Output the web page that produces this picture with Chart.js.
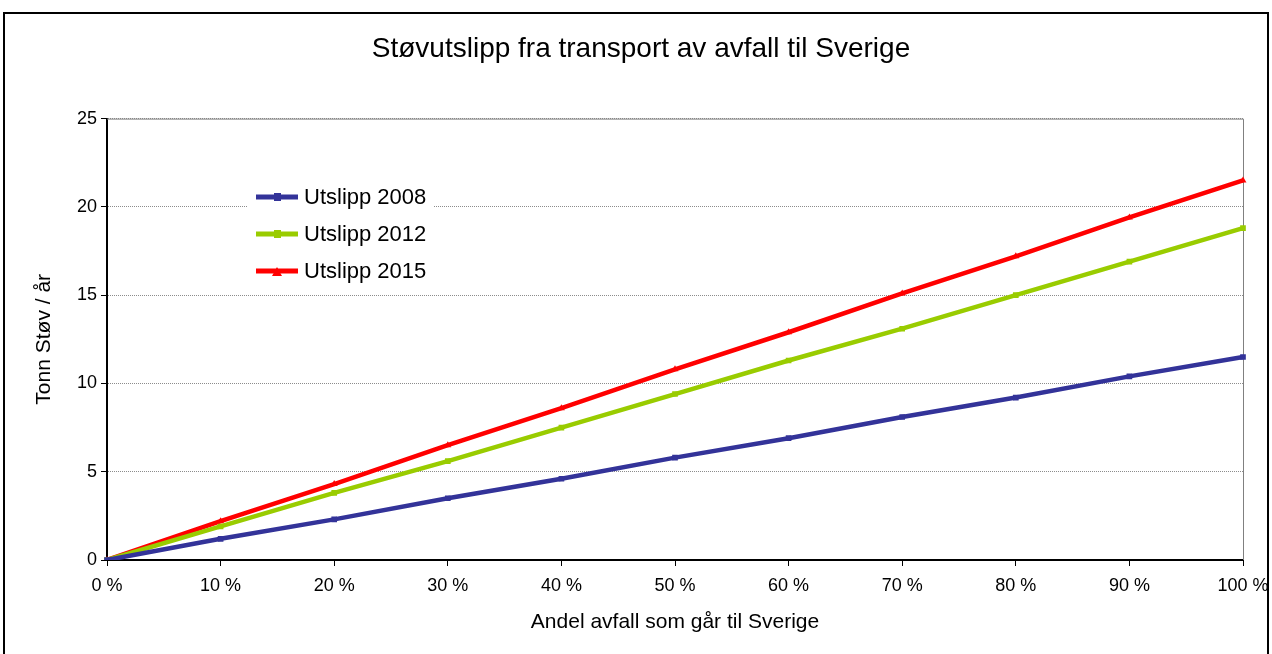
<!DOCTYPE html>
<html>
<head>
<meta charset="utf-8">
<script src="https://cdn.jsdelivr.net/npm/chart.js@4"></script>
<style>
  html, body { margin: 0; padding: 0; background: #fff; }
  #wrap { width: 1272px; height: 654px; }
</style>
</head>
<body>
<div id="wrap"><canvas id="dustChart" width="1272" height="654"></canvas></div>
<script>
const shares = ["0 %", "10 %", "20 %", "30 %", "40 %", "50 %", "60 %", "70 %", "80 %", "90 %", "100 %"];
const utslipp2008 = [0, 1.2, 2.3, 3.5, 4.6, 5.8, 6.9, 8.1, 9.2, 10.4, 11.5];
const utslipp2012 = [0, 1.9, 3.8, 5.6, 7.5, 9.4, 11.3, 13.1, 15.0, 16.9, 18.8];
const utslipp2015 = [0, 2.2, 4.3, 6.5, 8.6, 10.8, 12.9, 15.1, 17.2, 19.4, 21.5];

const FONT = "'Liberation Sans', Arial, sans-serif";

// white page + outer frame + top/right plot border
const frame = {
  id: "frame",
  beforeDraw(chart) {
    const c = chart.ctx;
    c.save();
    c.fillStyle = "#fff";
    c.fillRect(0, 0, chart.width, chart.height);
    c.strokeStyle = "#000";
    c.lineWidth = 2;
    c.strokeRect(4, 13, 1264, 660);
    c.restore();
  },
  beforeDatasetsDraw(chart) {
    const a = chart.chartArea;
    const c = chart.ctx;
    c.save();
    c.strokeStyle = "#808080";
    c.lineWidth = 1;
    c.beginPath();
    c.moveTo(a.left, a.top + 0.5);
    c.lineTo(a.right + 0.5, a.top + 0.5);
    c.lineTo(a.right + 0.5, a.bottom);
    c.stroke();
    c.restore();
  }
};

// legend box sitting inside the plot
const boxLegend = {
  id: "boxLegend",
  afterDraw(chart) {
    const c = chart.ctx;
    c.save();
    c.fillStyle = "#fff";
    c.fillRect(247, 182, 187, 108);
    c.font = "22px " + FONT;
    c.textBaseline = "middle";
    chart.data.datasets.forEach((ds, i) => {
      const y = 197 + i * 37;
      c.strokeStyle = ds.borderColor;
      c.lineWidth = 5;
      c.beginPath();
      c.moveTo(256, y);
      c.lineTo(298, y);
      c.stroke();
      c.fillStyle = ds.borderColor;
      if (ds.pointStyle === "triangle") {
        c.beginPath();
        c.moveTo(277, y - 4);
        c.lineTo(282, y + 5);
        c.lineTo(272, y + 5);
        c.closePath();
        c.fill();
      } else {
        c.fillRect(274, y - 4, 7, 8);
      }
      c.fillStyle = "#000";
      c.fillText(ds.label, 304, y + 1);
    });
    c.restore();
  }
};

const ctx = document.getElementById("dustChart").getContext("2d");
new Chart(ctx, {
  type: "line",
  data: {
    labels: shares,
    datasets: [
      { label: "Utslipp 2008", data: utslipp2008, borderColor: "#333399", backgroundColor: "#333399", pointStyle: "rect" },
      { label: "Utslipp 2012", data: utslipp2012, borderColor: "#99CC00", backgroundColor: "#99CC00", pointStyle: "rect" },
      { label: "Utslipp 2015", data: utslipp2015, borderColor: "#FF0000", backgroundColor: "#FF0000", pointStyle: "triangle" }
    ]
  },
  options: {
    responsive: false,
    animation: false,
    layout: { padding: { left: 10, right: 0, top: 0, bottom: 0 } },
    elements: {
      line: { borderWidth: 4.5, tension: 0 },
      point: { radius: 4, borderWidth: 0, hoverRadius: 4 }
    },
    scales: {
      x: {
        offset: false,
        grid: { drawOnChartArea: false, tickLength: 6, tickColor: "#000", offset: false },
        border: { color: "#000", width: 2 },
        ticks: { color: "#000", font: { family: FONT, size: 18 }, padding: 9, maxRotation: 0, autoSkip: false },
        title: { display: true, text: "Andel avfall som går til Sverige", color: "#000",
                 font: { family: FONT, size: 21 }, padding: { top: 19, bottom: 19 } },
        afterFit(scale) {
          scale.height = 94;
          scale.paddingRight = 20;
          scale.paddingLeft = 20;
        }
      },
      y: {
        min: 0, max: 25,
        grid: { color: "#8c8c8c", tickLength: 6, tickColor: "#000" },
        border: { color: "#000", width: 2, dash: [1, 1] },
        ticks: { stepSize: 5, color: "#000", font: { family: FONT, size: 18 }, padding: 4 },
        title: { display: true, text: "Tonn Støv / år", color: "#000",
                 font: { family: FONT, size: 21 }, padding: { top: 22, bottom: 22 } },
        afterFit(scale) { scale.width = 97; }
      },
      // empty right-hand strip so the plot ends where the original does
      yRight: {
        position: "right",
        min: 0, max: 25,
        grid: { drawOnChartArea: false, drawTicks: false },
        border: { display: false },
        ticks: { display: false },
        afterFit(scale) { scale.width = 29; }
      }
    },
    plugins: {
      legend: { display: false },
      tooltip: { enabled: false },
      title: {
        display: true,
        text: "Støvutslipp fra transport av avfall til Sverige",
        color: "#000",
        font: { family: FONT, size: 28, weight: "normal" },
        padding: { top: 32, bottom: 53 }
      }
    }
  },
  plugins: [frame, boxLegend]
});
</script>
</body>
</html>
